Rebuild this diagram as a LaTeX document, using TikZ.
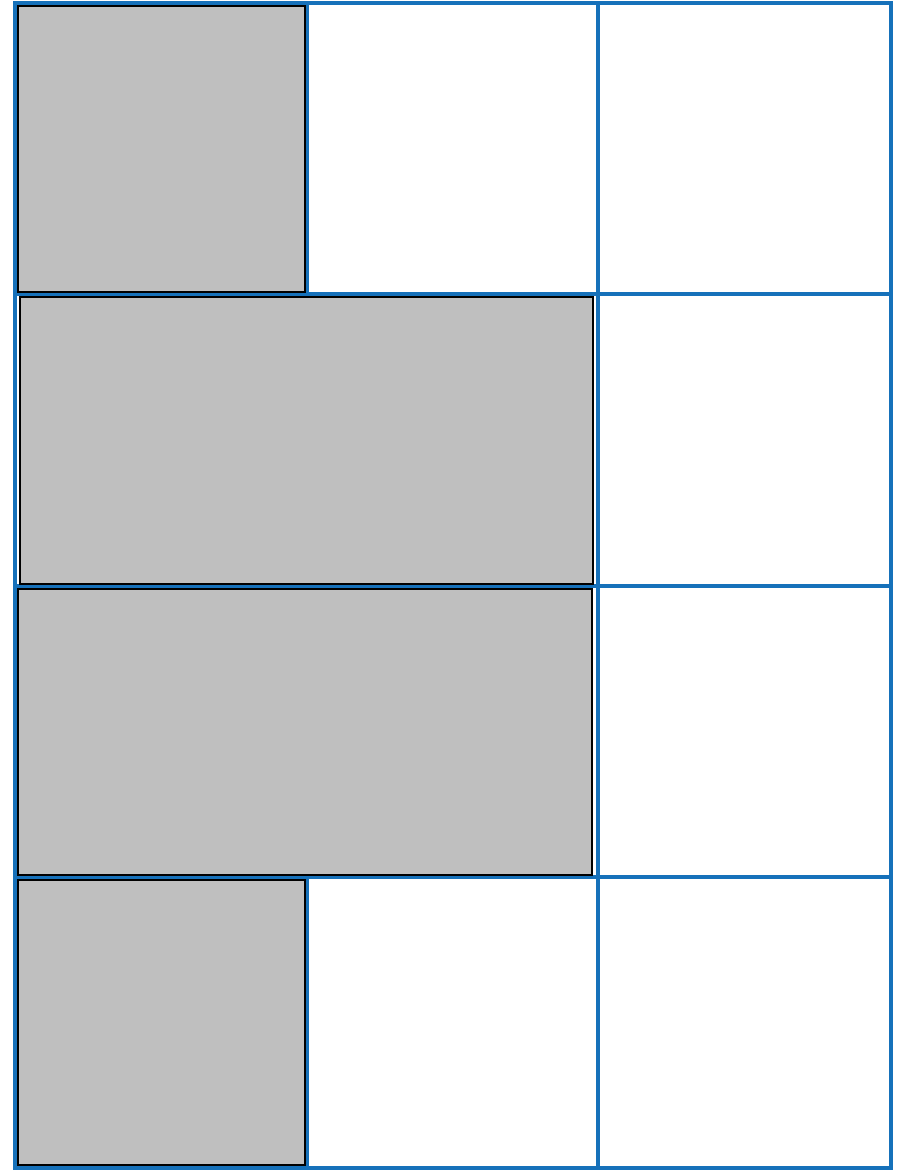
\documentclass[tikz,border=0pt]{standalone}
\definecolor{gridblue}{RGB}{22,113,186}
\begin{document}
\begin{tikzpicture}[x=1pt, y=-1pt,
  gridline/.style={draw=gridblue, line width=4pt, line cap=rect},
  block/.style={draw=black, line width=2pt, fill=black!25}
]
\useasboundingbox (0,0) rectangle (904,1170);
% grid
\foreach \gx in {15,307,598,891}
  \draw[gridline] (\gx,2.5) -- (\gx,1168);
\foreach \gy in {2.5,294,585.5,877,1168}
  \draw[gridline] (15,\gy) -- (891,\gy);
% grey blocks
\draw[block] (18,6) rectangle (305,292);
\draw[block] (20,297) rectangle (593,584);
\draw[block] (18,589) rectangle (592,875);
\draw[block] (18,880) rectangle (305,1165);
\end{tikzpicture}
\end{document}
